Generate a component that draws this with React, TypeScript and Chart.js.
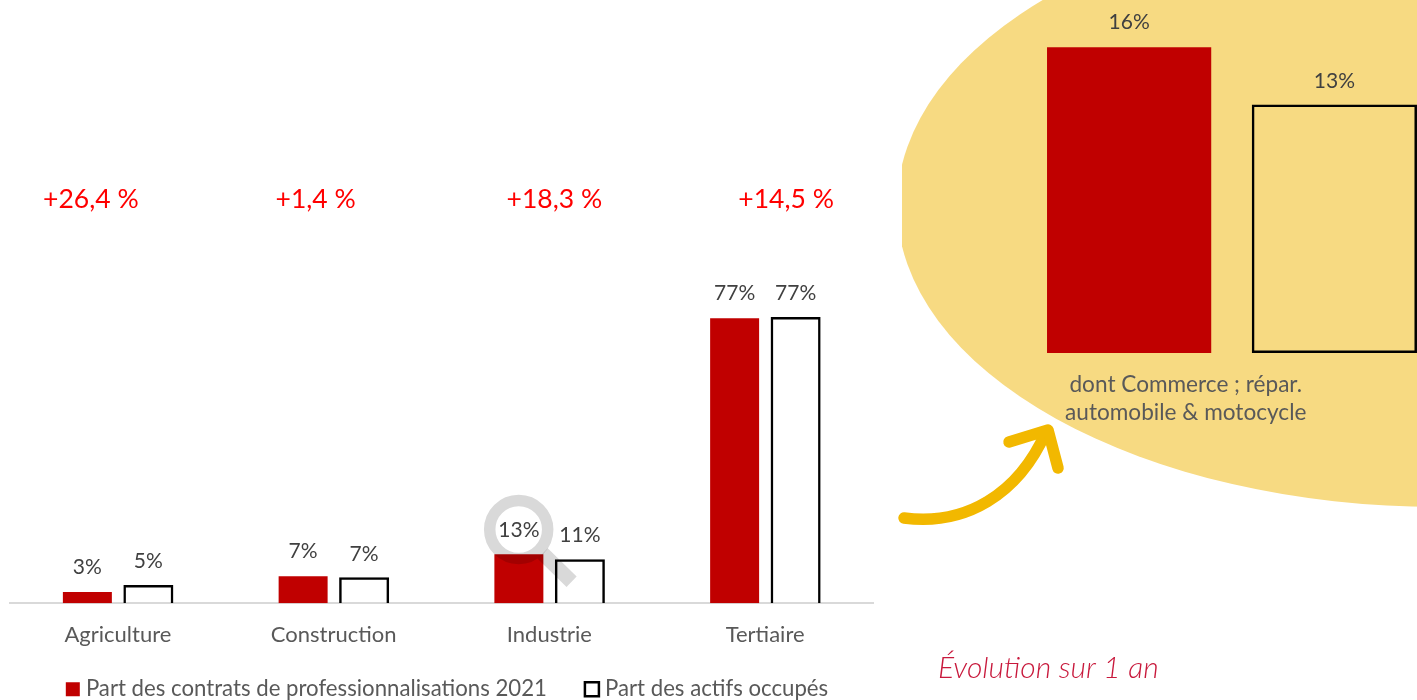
import React, { useEffect, useRef } from "react";
import { Chart, registerables } from "chart.js";

Chart.register(...registerables);

const categories = ["Agriculture", "Construction", "Industrie", "Tertiaire"];
const contrats = [3, 7.3, 13.2, 77];
const actifs = [4.9, 7, 11.9, 77.3];
const contratsLabels = ["3%", "7%", "13%", "77%"];
const actifsLabels = ["5%", "7%", "11%", "77%"];
const evolutions = ["+26,4 %", "+1,4 %", "+18,3 %", "+14,5 %"];
const serieContrats = "Part des contrats de professionnalisations 2021";
const serieActifs = "Part des actifs occupés";

const zoomCategory = [["dont Commerce ; répar.", "automobile & motocycle"]];
const zoomContrats = [16];
const zoomActifs = [13];
const zoomContratsLabels = ["16%"];
const zoomActifsLabels = ["13%"];
const evolutionNote = "Évolution sur 1 an";

const FONT = "Lato, Carlito, sans-serif";
const RED = "#C00000";
const EVOLUTION_OFFSETS = [-27, -18, 5, 21];

function drawBarLabels(chart: any, labelSets: string[][], size: number) {
  const ctx = chart.ctx;
  ctx.save();
  ctx.font = `${size}px ${FONT}`;
  ctx.fillStyle = "#404040";
  ctx.textAlign = "center";
  ctx.textBaseline = "middle";
  labelSets.forEach((set, d) => {
    chart.getDatasetMeta(d).data.forEach((bar: any, i: number) => {
      ctx.fillText(set[i], bar.x, bar.y - (d === 0 ? 24.5 : 23.5));
    });
  });
  ctx.restore();
}

const mainPlugin = {
  id: "mainDecor",
  beforeDraw(chart: any) {
    // let the tick labels run past the axis box, above the legend's padding
    chart.scales.x.bottom = chart.scales.x.top + 60;
  },
  afterDatasetsDraw(chart: any) {
    const ctx = chart.ctx;
    // magnifier, laid over the Industrie bars
    ctx.save();
    ctx.globalCompositeOperation = "multiply";
    ctx.strokeStyle = "#D9D9D9";
    ctx.lineWidth = 11.5;
    ctx.beginPath();
    ctx.arc(518.7, 529.5, 29, 0, Math.PI * 2);
    ctx.stroke();
    ctx.lineWidth = 14.5;
    ctx.beginPath();
    ctx.moveTo(518.7 + 24, 529.5 + 24);
    ctx.lineTo(571.6, 581.7);
    ctx.stroke();
    ctx.restore();

    drawBarLabels(chart, [contratsLabels, actifsLabels], 21);

    ctx.save();
    ctx.font = `26.5px ${FONT}`;
    ctx.fillStyle = "#FF0000";
    ctx.textAlign = "center";
    ctx.textBaseline = "middle";
    const xs = chart.scales.x;
    evolutions.forEach((t, i) => {
      ctx.fillText(t, xs.getPixelForValue(i) + EVOLUTION_OFFSETS[i], 199.5);
    });
    ctx.restore();
  },
};

const insetPlugin = {
  id: "insetDecor",
  beforeDraw(chart: any) {
    const ctx = chart.ctx;
    const ox = 892; // canvas left edge on the page
    ctx.save();
    ctx.beginPath();
    ctx.rect(902 - ox, 0, 600, 700);
    ctx.clip();
    ctx.fillStyle = "#F7DA82";
    ctx.beginPath();
    ctx.ellipse(1440 - ox, 205.5, 543, 301.5, 0, 0, Math.PI * 2);
    ctx.fill();
    ctx.restore();

    ctx.save();
    ctx.strokeStyle = "#F2B800";
    ctx.lineWidth = 11.5;
    ctx.lineCap = "round";
    ctx.lineJoin = "round";
    ctx.beginPath();
    ctx.moveTo(904 - ox, 518);
    ctx.bezierCurveTo(965 - ox, 526, 1018 - ox, 495, 1046 - ox, 432);
    ctx.stroke();
    ctx.beginPath();
    ctx.moveTo(1009 - ox, 442);
    ctx.lineTo(1048 - ox, 430);
    ctx.lineTo(1058 - ox, 468);
    ctx.stroke();
    ctx.restore();

    ctx.save();
    ctx.font = `italic 300 30px ${FONT}`;
    ctx.fillStyle = "#C8193C";
    ctx.textAlign = "left";
    ctx.textBaseline = "middle";
    ctx.fillText(evolutionNote, 938 - ox, 668);
    ctx.restore();
  },
  afterDatasetsDraw(chart: any) {
    drawBarLabels(chart, [zoomContratsLabels, zoomActifsLabels], 21);
  },
};

export default function App() {
  const mainRef = useRef<HTMLCanvasElement>(null);
  const insetRef = useRef<HTMLCanvasElement>(null);

  useEffect(() => {
    const main = new Chart(mainRef.current!, {
      type: "bar",
      data: {
        labels: categories,
        datasets: [
          {
            label: serieContrats,
            data: contrats,
            backgroundColor: RED,
            borderWidth: 0,
            borderColor: RED,
            categoryPercentage: 0.5655,
            barPercentage: 0.803,
          },
          {
            label: serieActifs,
            data: actifs,
            backgroundColor: "rgba(255,255,255,0)",
            borderColor: "#000000",
            borderWidth: 2.5,
            categoryPercentage: 0.5655,
            barPercentage: 0.82,
          },
        ],
      },
      options: {
        responsive: false,
        animation: false,
        layout: { padding: { left: 10, right: 19, top: 48, bottom: -10.4 } },
        scales: {
          x: {
            afterFit: (s: any) => {
              s.height = 32;
            },
            grid: { display: false },
            border: { display: true, color: "#D9D9D9", width: 2 },
            ticks: {
              color: "#595959",
              font: { family: FONT, size: 22 },
              padding: 11,
              maxRotation: 0,
            },
          },
          y: {
            display: true,
            position: "right",
            min: 0,
            max: 150,
            afterFit: (s: any) => {
              s.width = 16; // unseen axis: centres the legend under the whole figure
            },
            grid: { display: false },
            border: { display: false },
            ticks: { display: false },
          },
        },
        plugins: {
          tooltip: { enabled: false },
          legend: {
            position: "bottom",
            labels: {
              color: "#595959",
              font: { family: FONT, size: 22.2 },
              usePointStyle: true,
              pointStyle: "rect",
              boxWidth: 4,
              boxHeight: 14,
              padding: 43,
            },
          },
        },
      } as any,
      plugins: [mainPlugin],
    });

    const inset = new Chart(insetRef.current!, {
      type: "bar",
      data: {
        labels: zoomCategory as any,
        datasets: [
          {
            label: serieContrats,
            data: zoomContrats,
            backgroundColor: RED,
            borderWidth: 0,
            categoryPercentage: 1,
            barPercentage: 0.8,
          },
          {
            label: serieActifs,
            data: zoomActifs,
            backgroundColor: "rgba(255,255,255,0)",
            borderColor: "#000000",
            borderWidth: 2.5,
            borderSkipped: false,
            categoryPercentage: 1,
            barPercentage: 0.805,
          },
        ],
      },
      options: {
        responsive: false,
        animation: false,
        layout: { padding: { left: 134.5, right: 0, top: 9, bottom: 0 } },
        scales: {
          x: {
            afterFit: (s: any) => {
              s.height = 347;
            },
            grid: { display: false },
            border: { display: false },
            ticks: {
              color: "#595959",
              font: { family: FONT, size: 22.6, lineHeight: 1.24 },
              padding: 10,
              labelOffset: -46,
              maxRotation: 0,
              autoSkip: false,
            },
          },
          y: { display: false, min: 0, max: 18 },
        },
        plugins: { tooltip: { enabled: false }, legend: { display: false } },
      } as any,
      plugins: [insetPlugin],
    });

    return () => {
      main.destroy();
      inset.destroy();
    };
  }, []);

  return (
    <div style={{ position: "fixed", left: 0, top: 0, width: 1417, height: 700, overflow: "hidden", background: "#fff" }}>
      <canvas ref={insetRef} width={545} height={700} style={{ position: "absolute", left: 892, top: 0, width: 545, height: 700 }} />
      <canvas ref={mainRef} width={908} height={700} style={{ position: "absolute", left: 0, top: 0, width: 908, height: 700 }} />
    </div>
  );
}
